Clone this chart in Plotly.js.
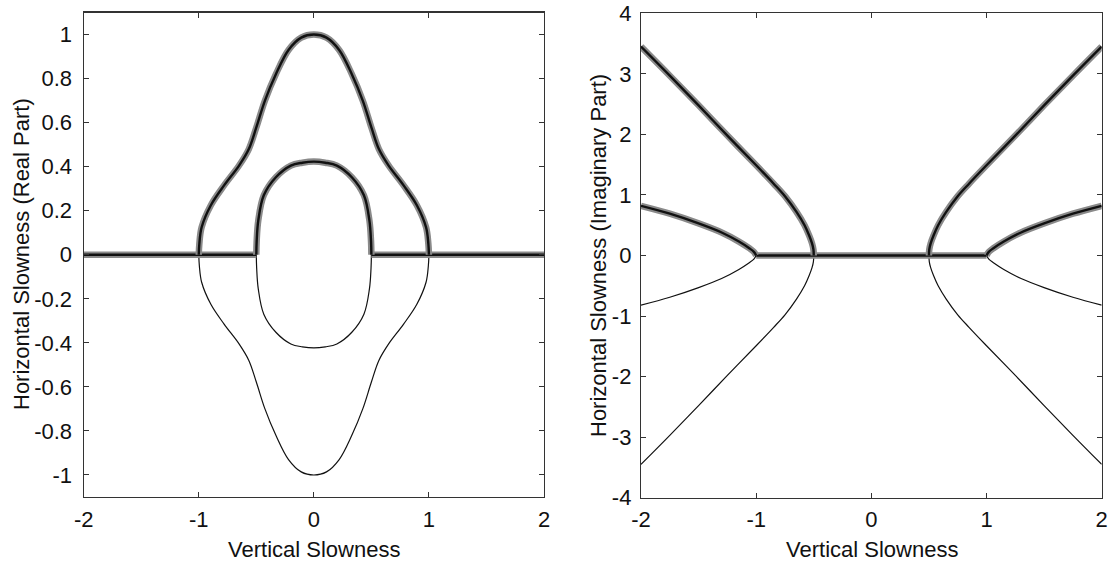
<!DOCTYPE html>
<html>
<head>
<meta charset="utf-8">
<script src="https://cdn.plot.ly/plotly-3.0.1.min.js"></script>
<style>
  html, body { margin: 0; padding: 0; background: #ffffff; }
  #chart { width: 1113px; height: 561px; }
</style>
</head>
<body>
<div id="chart"></div>
<script>
// ---------- Data ----------
// Left panel: Horizontal Slowness (Real Part) vs Vertical Slowness
const realOuterX   = [-1.0, -0.995, -0.975, -0.895, -0.78, -0.65, -0.565, -0.50, -0.425, -0.33, -0.22, -0.11, 0, 0.11, 0.22, 0.33, 0.425, 0.50, 0.565, 0.65, 0.78, 0.895, 0.975, 0.995, 1.0];
const realOuterPos = [0, 0.05, 0.125, 0.225, 0.315, 0.405, 0.48, 0.578, 0.70, 0.82, 0.93, 0.986, 1.0, 0.986, 0.93, 0.82, 0.70, 0.578, 0.48, 0.405, 0.315, 0.225, 0.125, 0.05, 0];
const realOuterNeg = [0, -0.05, -0.125, -0.225, -0.315, -0.405, -0.48, -0.578, -0.70, -0.82, -0.93, -0.986, -1.0, -0.986, -0.93, -0.82, -0.70, -0.578, -0.48, -0.405, -0.315, -0.225, -0.125, -0.05, 0];

const realInnerX   = [-0.5, -0.497, -0.483, -0.435, -0.33, -0.2, -0.1, 0, 0.1, 0.2, 0.33, 0.435, 0.483, 0.497, 0.5];
const realInnerPos = [0, 0.06, 0.155, 0.27, 0.352, 0.405, 0.418, 0.423, 0.418, 0.405, 0.352, 0.27, 0.155, 0.06, 0];
const realInnerNeg = [0, -0.06, -0.155, -0.27, -0.352, -0.405, -0.418, -0.423, -0.418, -0.405, -0.352, -0.27, -0.155, -0.06, 0];

const realZeroLX = [-2, -0.5];
const realZeroRX = [0.5, 2];
const realZeroY  = [0, 0];

// Right panel: Horizontal Slowness (Imaginary Part) vs Vertical Slowness
const imagOuterLX  = [-2, -1.75, -1.5, -1.25, -1.0, -0.85, -0.75, -0.65, -0.58, -0.54, -0.515, -0.503, -0.5];
const imagOuterLY  = [3.45, 2.97, 2.48, 1.98, 1.49, 1.19, 0.98, 0.72, 0.50, 0.33, 0.20, 0.10, 0];
const imagOuterLYn = [-3.45, -2.97, -2.48, -1.98, -1.49, -1.19, -0.98, -0.72, -0.50, -0.33, -0.20, -0.10, 0];
const imagOuterRX  = [0.5, 0.503, 0.515, 0.54, 0.58, 0.65, 0.75, 0.85, 1.0, 1.25, 1.5, 1.75, 2];
const imagOuterRY  = [0, 0.10, 0.20, 0.33, 0.50, 0.72, 0.98, 1.19, 1.49, 1.98, 2.48, 2.97, 3.45];
const imagOuterRYn = [0, -0.10, -0.20, -0.33, -0.50, -0.72, -0.98, -1.19, -1.49, -1.98, -2.48, -2.97, -3.45];

const imagInnerLX  = [-2, -1.75, -1.5, -1.3, -1.15, -1.06, -1.02, -1.0];
const imagInnerLY  = [0.82, 0.69, 0.53, 0.38, 0.23, 0.12, 0.06, 0];
const imagInnerLYn = [-0.82, -0.69, -0.53, -0.38, -0.23, -0.12, -0.06, 0];
const imagInnerRX  = [1.0, 1.02, 1.06, 1.15, 1.3, 1.5, 1.75, 2];
const imagInnerRY  = [0, 0.06, 0.12, 0.23, 0.38, 0.53, 0.69, 0.82];
const imagInnerRYn = [0, -0.06, -0.12, -0.23, -0.38, -0.53, -0.69, -0.82];

const imagZeroX = [-1, 1];
const imagZeroY = [0, 0];

// Tick labels
const xTickVals  = [-2, -1, 0, 1, 2];
const xTickText  = ['-2', '-1', '0', '1', '2'];
const y1TickVals = [-1, -0.8, -0.6, -0.4, -0.2, 0, 0.2, 0.4, 0.6, 0.8, 1];
const y1TickText = ['-1', '-0.8', '-0.6', '-0.4', '-0.2', '0', '0.2', '0.4', '0.6', '0.8', '1'];
const y2TickVals = [-4, -3, -2, -1, 0, 1, 2, 3, 4];
const y2TickText = ['-4', '-3', '-2', '-1', '0', '1', '2', '3', '4'];

const xTitle  = 'Vertical Slowness';
const y1Title = 'Horizontal Slowness (Real Part)';
const y2Title = 'Horizontal Slowness (Imaginary Part)';

// ---------- Build traces ----------
const W = 1113, H = 561;
const traces = [];
function thick(x, y, xa, ya, shape) {
  traces.push({x: x, y: y, xaxis: xa, yaxis: ya, type: 'scatter', mode: 'lines',
    line: {color: '#8a8a8a', width: 6.5, shape: shape || 'spline'}, hoverinfo: 'skip'});
  traces.push({x: x, y: y, xaxis: xa, yaxis: ya, type: 'scatter', mode: 'lines',
    line: {color: '#111111', width: 2.4, shape: shape || 'spline'}, hoverinfo: 'skip'});
}
function thin(x, y, xa, ya) {
  traces.push({x: x, y: y, xaxis: xa, yaxis: ya, type: 'scatter', mode: 'lines',
    line: {color: '#111111', width: 1.2, shape: 'spline'}, hoverinfo: 'skip'});
}

// left panel
thin(realOuterX, realOuterNeg, 'x', 'y');
thin(realInnerX, realInnerNeg, 'x', 'y');
thick(realZeroLX, realZeroY, 'x', 'y', 'linear');
thick(realZeroRX, realZeroY, 'x', 'y', 'linear');
thick(realOuterX, realOuterPos, 'x', 'y');
thick(realInnerX, realInnerPos, 'x', 'y');

// right panel
thin(imagOuterLX, imagOuterLYn, 'x2', 'y2');
thin(imagOuterRX, imagOuterRYn, 'x2', 'y2');
thin(imagInnerLX, imagInnerLYn, 'x2', 'y2');
thin(imagInnerRX, imagInnerRYn, 'x2', 'y2');
thick(imagZeroX, imagZeroY, 'x2', 'y2', 'linear');
thick(imagOuterLX, imagOuterLY, 'x2', 'y2');
thick(imagOuterRX, imagOuterRY, 'x2', 'y2');
thick(imagInnerLX, imagInnerLY, 'x2', 'y2');
thick(imagInnerRX, imagInnerRY, 'x2', 'y2');

// ---------- Layout ----------
const font = {family: 'Liberation Sans, Arial, sans-serif', size: 22, color: '#111111'};
const axisBase = {
  showgrid: false, zeroline: false, showline: true, mirror: 'ticks',
  ticks: 'inside', ticklen: 5, tickwidth: 1, linewidth: 1.2,
  linecolor: '#333333', tickcolor: '#333333', tickmode: 'array',
  tickfont: font, fixedrange: true
};

const layout = {
  width: W, height: H,
  margin: {l: 0, r: 0, t: 0, b: 0},
  paper_bgcolor: '#ffffff', plot_bgcolor: '#ffffff',
  showlegend: false,
  font: font,
  xaxis: Object.assign({}, axisBase, {domain: [83.7 / W, 544 / W], range: [-2, 2], anchor: 'y',
    tickvals: xTickVals, ticktext: xTickText, ticklabelstandoff: 2}),
  yaxis: Object.assign({}, axisBase, {domain: [1 - 497 / H, 1 - 12.5 / H], range: [-1.1, 1.1], anchor: 'x',
    tickvals: y1TickVals, ticktext: y1TickText, ticklabelstandoff: 6}),
  xaxis2: Object.assign({}, axisBase, {domain: [641 / W, 1101.7 / W], range: [-2, 2], anchor: 'y2',
    tickvals: xTickVals, ticktext: xTickText, ticklabelstandoff: 2}),
  yaxis2: Object.assign({}, axisBase, {domain: [1 - 497.7 / H, 1 - 13.3 / H], range: [-4, 4], anchor: 'x2',
    tickvals: y2TickVals, ticktext: y2TickText, ticklabelstandoff: 4}),
  annotations: [
    {text: xTitle, xref: 'paper', yref: 'paper', x: 313.8 / W, y: 1 - 549 / H,
     xanchor: 'center', yanchor: 'middle', showarrow: false, font: font},
    {text: xTitle, xref: 'paper', yref: 'paper', x: 871.5 / W, y: 1 - 549 / H,
     xanchor: 'center', yanchor: 'middle', showarrow: false, font: font},
    {text: y1Title, xref: 'paper', yref: 'paper', x: 21 / W, y: 1 - 254 / H, textangle: -90,
     xanchor: 'center', yanchor: 'middle', showarrow: false, font: font},
    {text: y2Title, xref: 'paper', yref: 'paper', x: 599 / W, y: 1 - 256 / H, textangle: -90,
     xanchor: 'center', yanchor: 'middle', showarrow: false, font: font}
  ]
};

Plotly.newPlot('chart', traces, layout, {displayModeBar: false, staticPlot: true});
</script>
</body>
</html>
